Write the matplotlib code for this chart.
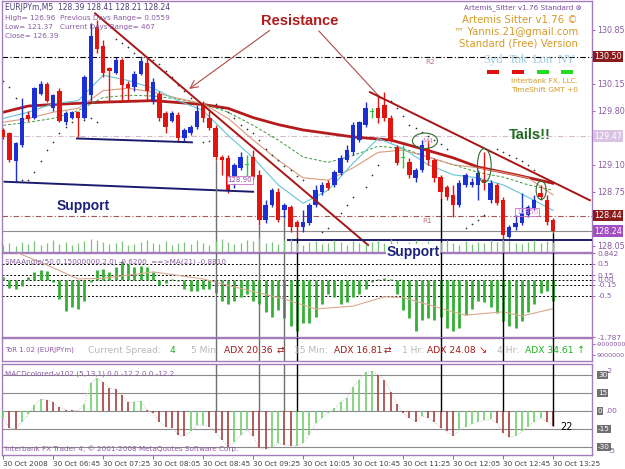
import matplotlib
matplotlib.use("Agg")
import matplotlib.pyplot as plt
from matplotlib.patches import Ellipse, Rectangle
import matplotlib.transforms as mtransforms
import numpy as np

# ---- values (EURJPYm, M5, 30 Oct 2008) ----
opens = [129.55, 129.51, 129.15, 129.35, 129.75, 129.71, 130.02, 130.14, 129.84, 130.06,
         129.65, 129.71, 129.78, 129.71, 130.00, 130.88, 130.64, 130.35, 130.29, 130.45,
         130.15, 130.10, 130.28, 130.42, 129.93, 130.01, 129.77, 129.67, 129.74, 129.44,
         129.51, 129.59, 129.87, 129.71, 129.57, 129.20, 129.19, 128.84, 129.06, 129.10,
         129.20, 128.97, 128.39, 128.58, 128.75, 128.51, 128.55, 128.36, 128.30, 128.35,
         128.58, 128.75, 128.86, 128.84, 128.99, 129.16, 129.26, 129.42, 129.61, 129.78,
         129.83, 129.87, 129.71, 129.33, 129.19, 129.13, 128.93, 129.03, 129.31, 129.16,
         128.94, 128.81, 128.71, 128.58, 128.84, 128.84, 128.84, 128.90, 128.64, 128.84,
         128.64, 128.17, 128.30, 128.35, 128.45, 128.54, 128.73, 128.64, 128.39]
highs = [129.57, 129.53, 129.40, 129.97, 129.80, 130.11, 130.19, 130.17, 130.02, 130.09,
         129.80, 129.80, 129.80, 130.26, 130.94, 130.97, 130.71, 130.37, 130.49, 130.48,
         130.19, 130.32, 130.50, 130.48, 130.22, 130.06, 129.80, 129.80, 129.78, 129.57,
         129.61, 129.87, 129.93, 129.80, 129.61, 129.22, 129.22, 129.12, 129.26, 129.22,
         129.29, 129.03, 128.64, 128.80, 128.80, 128.60, 128.58, 128.39, 128.51, 128.60,
         128.84, 128.88, 128.90, 129.03, 129.22, 129.35, 129.65, 129.67, 129.91, 129.83,
         130.00, 130.04, 129.74, 129.35, 129.35, 129.19, 129.06, 129.42, 129.42, 129.19,
         128.97, 128.84, 128.84, 128.90, 128.99, 128.93, 129.03, 129.26, 128.90, 128.86,
         128.68, 128.32, 128.45, 128.73, 128.58, 128.71, 128.84, 128.71, 128.41]
lows = [129.43, 129.13, 128.88, 129.33, 129.66, 129.69, 130.00, 129.91, 129.80, 129.65,
        129.61, 129.69, 129.46, 129.69, 129.93, 130.55, 130.23, 129.93, 130.27, 129.93,
        129.93, 130.06, 130.26, 129.93, 129.88, 129.67, 129.51, 129.65, 129.39, 129.40,
        129.48, 129.56, 129.65, 129.55, 129.16, 128.97, 128.73, 128.80, 129.03, 128.94,
        128.90, 128.32, 128.35, 128.55, 128.36, 128.41, 128.23, 128.17, 128.23, 128.32,
        128.55, 128.71, 128.77, 128.81, 128.97, 129.13, 129.22, 129.39, 129.59, 129.70,
        129.64, 129.67, 129.39, 129.10, 129.06, 128.93, 128.88, 129.00, 129.10, 128.88,
        128.67, 128.64, 128.42, 128.55, 128.81, 128.81, 128.64, 128.77, 128.60, 128.58,
        128.15, 128.15, 128.26, 128.32, 128.42, 128.51, 128.64, 128.32, 128.21]
closes = [129.46, 129.16, 129.38, 129.70, 129.69, 130.09, 130.15, 129.93, 130.00, 129.67,
          129.77, 129.78, 129.71, 130.23, 130.77, 130.60, 130.29, 130.32, 130.46, 130.13,
          130.09, 130.28, 130.44, 130.06, 130.17, 129.70, 129.59, 129.77, 129.44, 129.55,
          129.59, 129.80, 129.71, 129.57, 129.20, 129.16, 128.77, 129.10, 129.20, 129.10,
          128.94, 128.39, 128.58, 128.77, 128.39, 128.58, 128.30, 128.30, 128.36, 128.58,
          128.77, 128.84, 128.80, 129.00, 129.19, 129.29, 129.61, 129.65, 129.83, 129.78,
          129.70, 129.71, 129.42, 129.12, 129.19, 128.97, 129.03, 129.35, 129.16, 128.93,
          128.75, 128.68, 128.58, 128.86, 128.97, 128.88, 128.99, 128.86, 128.86, 128.60,
          128.19, 128.30, 128.35, 128.48, 128.55, 128.64, 128.68, 128.36, 128.24]
volumes = [7, 9, 6, 10, 8, 11, 7, 9, 12, 8, 10, 7, 9, 11, 13, 12, 10, 8, 9, 11,
           7, 8, 10, 12, 9, 8, 11, 7, 9, 10, 8, 12, 9, 7, 11, 13, 10, 8, 9, 12,
           11, 14, 9, 10, 8, 12, 13, 9, 7, 10, 11, 8, 9, 12, 10, 7, 11, 9, 8, 10,
           12, 9, 13, 11, 8, 10, 12, 9, 11, 8, 10, 12, 9, 7, 11, 8, 10, 9, 12, 10,
           13, 11, 9, 8, 10, 12, 9, 11, 10]

# moving averages, sampled every 4 bars
ma_idx = [0, 4, 8, 12, 16, 20, 24, 28, 32, 36, 40, 44, 48, 52, 56, 60, 64, 68, 72, 76, 80, 84, 88]
ma_fast = [129.70, 129.78, 129.89, 129.93, 130.26, 130.19, 130.09, 129.93, 129.80, 129.48, 129.19, 128.84,
           128.60, 128.77, 129.12, 129.44, 129.31, 129.10, 128.97, 128.93, 128.84, 128.68, 128.51]
ma_mid = [129.65, 129.70, 129.78, 129.83, 130.06, 130.09, 130.04, 129.96, 129.89, 129.70, 129.42, 129.16,
          128.93, 128.90, 129.06, 129.26, 129.29, 129.20, 129.10, 129.06, 129.00, 128.93, 128.71]
ma_dash = [129.61, 129.65, 129.70, 129.80, 129.97, 130.00, 129.99, 129.95, 129.89, 129.78, 129.61, 129.42,
           129.20, 129.13, 129.22, 129.34, 129.31, 129.20, 129.10, 129.00, 128.94, 128.84, 128.77]
ma_slow_idx = [0, 4, 8, 16, 24, 32, 36, 40, 44, 48, 56, 62, 66, 72, 76, 82, 88]
ma_slow = [129.78, 129.86, 129.88, 129.91, 129.93, 129.88, 129.83, 129.71, 129.62, 129.55, 129.46, 129.42,
           129.33, 129.19, 129.07, 128.97, 128.86]

# parabolic SAR dots
sar_idx = [0, 1, 2, 3, 4, 5, 6, 7, 8, 9, 10, 11, 13, 14, 15,
           18, 19, 20, 21, 22, 24, 25, 26, 27, 28, 29, 30, 32, 33,
           34, 35, 36, 37, 38, 39, 40, 41, 42, 43, 44, 45, 46, 47, 48,
           51, 52, 54, 55, 56, 58, 59, 60,
           62, 63, 64, 65, 66, 67, 68, 69, 70, 71,
           74, 75, 76, 77, 79, 80, 81, 82, 83, 84, 85]
sar_val = [130.19, 130.10, 129.97, 128.90, 128.90, 129.00, 129.15, 129.29, 129.39, 129.51, 129.59, 129.65,
           129.68, 129.70, 129.65,
           130.73, 130.68, 130.62, 130.55, 130.50, 130.45, 130.41, 130.32, 130.24, 130.13, 130.06, 129.97,
           129.39, 129.41,
           129.89, 129.84, 129.78, 129.70, 129.61, 129.56, 129.51, 129.42, 129.30, 129.22, 129.16, 129.08,
           129.03, 128.95, 128.90,
           128.23, 128.28, 128.48, 128.58, 128.68, 128.81, 128.97, 129.10,
           129.93, 129.83, 129.73, 129.62, 129.57, 129.52, 129.47, 129.42, 129.37, 129.31,
           128.28, 128.33, 128.39, 128.45, 129.30, 129.26, 129.22, 129.19, 129.15, 129.10, 129.03]

# hand drawn trend lines: (bar0, price0, bar1, price1)
resistance_lines = [(14.7, 131.06, 58.4, 128.06), (58.7, 130.04, 93.9, 128.64)]
support_lines = [(0.2, 128.88, 40.0, 128.75), (11.8, 129.44, 30.2, 129.39), (45.6, 128.13, 94.2, 128.13)]
marked_bars = [34, 41, 45, 47, 70, 80, 88]
marked_colors = ['#707070', '#707070', '#707070', 'black', 'black', 'black', 'black']

price_ticks = [130.85, 130.15, 129.80, 129.10, 128.75, 128.05]
price_boxes = [(130.50, '#8b1a1a'), (129.47, '#d8c4e2'), (128.44, '#8b1a1a'), (128.24, '#a24fc2')]

sma_angle = [0.10, -0.25, -0.30, -0.20, 0.10, 0.25, 0.30, 0.28, -0.05, -0.60,
             -0.97, -0.85, -0.90, -0.65, -0.05, 0.30, 0.35, 0.25, 0.40, 0.60,
             0.50, 0.40, 0.45, 0.40, 0.25, -0.15, -0.10, 0.02, -0.02, -0.28,
             -0.35, -0.35, -0.30, -0.27, -0.40, -0.65, -0.75, -0.65, -0.55, -0.45,
             -0.65, -0.75, -1.00, -1.15, -0.95, -1.20, -1.45, -1.60, -1.35, -1.35,
             -1.15, -0.75, -0.45, -0.55, -0.75, -0.70, -0.55, -0.45, -0.30, -0.05,
             0.03, 0.05, 0.03, -0.45, -0.95, -1.20, -1.60, -1.25, -1.20, -1.25,
             -1.15, -1.50, -1.60, -1.50, -1.10, -0.90, -0.65, -0.70, -0.85, -1.05,
             -1.30, -1.45, -1.50, -1.30, -1.00, -0.75, -0.40, -0.35, -0.65]
sma_ma_idx = [0, 2, 6, 12, 16, 24, 32, 37, 45, 50, 56, 61, 64, 72, 74, 80, 83, 88]
sma_ma = [1.0, 0.87, 0.55, 0.03, 0.05, 0.25, 0.03, -0.22, -0.6, -0.91, -0.82, -0.53, -0.55, -1.0, -1.1,
          -1.0, -1.13, -0.9]
sma_levels = [0.5, 0.15, 0.0, -0.15, -0.5]
sma_ticks = [0.842, 0.5, 0.15, 0.0, -0.15, -0.5, -1.787]
sma_tick_labels = ['0.842', '0.5', '0.15', '0.00', '-0.15', '-0.5', '-1.787']

macd = [-6, -14, -15, -9, -3, 5, 10, 9, 7, 3,
        1, 0.5, 0.3, 6, 23, 27, 24, 19, 18, 13,
        7, 7.5, 8, 1, -2, -9, -13, -14, -20, -21,
        -17, -12, -12, -13, -18, -24, -30, -26, -20, -16,
        -21, -31, -32, -30, -27, -28, -29, -29, -27, -20,
        -10, -6, -2, 2, 7, 11, 20, 26, 32, 33,
        30, 26, 16, 6, -2, -6, -9, -4, -6, -9,
        -14, -17, -21, -16, -13, -11, -9, -8, -7, -10,
        -18, -22, -21, -17, -13, -9, -6, -9, -12.2]
macd_levels = [30, 15, 0, -15, -30]
macd_box_labels = ['30', '15', '0', '-15', '-30']

date_idx = [0, 8, 16, 24, 32, 40, 48, 56, 64, 72, 80, 88]
date_labels = ['30 Oct 2008', '30 Oct 06:45', '30 Oct 07:25', '30 Oct 08:05', '30 Oct 08:45',
               '30 Oct 09:25', '30 Oct 10:05', '30 Oct 10:45', '30 Oct 11:25', '30 Oct 12:05',
               '30 Oct 12:45', '30 Oct 13:25']

W, H = 625, 469
PURPLE = '#a57cbb'
LABEL = '#8a5aa2'
fig = plt.figure(figsize=(6.25, 4.69), dpi=100)
fig.patch.set_facecolor('white')


def px_axes(left, top, right, bottom):
    return fig.add_axes([left / W, 1 - bottom / H, (right - left) / W, (bottom - top) / H])


def ftext(x, y, s, **kw):
    kw.setdefault('va', 'center')
    kw.setdefault('ha', 'left')
    return fig.text(x / W, 1 - y / H, s, **kw)


def style(ax):
    for sp in ax.spines.values():
        sp.set_color(PURPLE)
        sp.set_linewidth(1.0)
    ax.set_xlim(-0.2, 94.24)
    ax.tick_params(left=False, labelleft=False, bottom=False, labelbottom=False,
                   right=True, labelright=True, colors=LABEL, labelsize=5.8,
                   length=2, pad=2, width=0.6)
    ax.set_facecolor('white')


x = np.arange(len(opens))
o, h, l, c = (np.array(v) for v in (opens, highs, lows, closes))

# ---------------- main price panel ----------------
ax = px_axes(2, 1, 592, 252)
style(ax)
ax.set_ylim(127.97, 131.22)
ax.set_yticks(price_ticks)
ax.set_yticklabels([f'{v:.2f}' for v in price_ticks])

ax.axhline(130.50, color='black', lw=0.8, ls=(0, (5, 2, 1, 2)), zorder=1)
ax.axhline(129.47, color='#d2b8cc', lw=0.8, ls=(0, (5, 2, 1, 2)), zorder=1)
ax.axhline(128.44, color='#a05858', lw=0.8, ls=(0, (5, 2, 1, 2)), zorder=1)
ax.axhline(128.24, color='#8c8c8c', lw=0.8, zorder=1)

ax.plot(ma_slow_idx, ma_slow, color='#b41c1c', lw=2.0, zorder=2)
ax.plot(ma_idx, ma_dash, color='#3c9a3c', lw=0.7, ls=(0, (3, 2)), zorder=2)
ax.plot(ma_idx, ma_mid, color='#d99a7a', lw=0.8, zorder=2)
ax.plot(ma_idx, ma_fast, color='#62c6d6', lw=0.8, zorder=2)
ax.scatter(sar_idx, sar_val, s=1.5, color='#303030', zorder=2, linewidths=0)

up = c > o
dn = c < o
cols = np.where(up, '#1c2fd2', np.where(dn, '#e2140f', '#22cc33'))
ax.vlines(x, l, h, colors=cols, lw=1.0, zorder=3)
body_lo = np.minimum(o, c)
body_h = np.maximum(np.abs(c - o), 0.012)
ax.bar(x, body_h, bottom=body_lo, width=0.7, color=cols, linewidth=0, zorder=4)

for b0, p0, b1, p1 in resistance_lines:
    ax.plot([b0, b1], [p0, p1], color='#a81515', lw=1.4, zorder=5)
for b0, p0, b1, p1 in support_lines:
    ax.plot([b0, b1], [p0, p1], color='#1c1c6e', lw=1.4, zorder=5)

for i, col in zip(marked_bars, marked_colors):
    ax.vlines(i, 127.97, lows[i], color=col, lw=1.0, zorder=5)

ax.add_patch(Ellipse((67.5, 129.41), 4.0, 0.20, fill=False, ec='#2e6b2e', lw=0.8, zorder=6))
ax.add_patch(Ellipse((77.0, 129.09), 2.2, 0.44, fill=False, ec='#2e6b2e', lw=0.8, zorder=6))
ax.add_patch(Ellipse((86.1, 128.77), 1.6, 0.24, fill=False, ec='#2e6b2e', lw=0.8, zorder=6))

# volume-like histogram at the bottom of the price panel
vax = px_axes(2, 234, 592, 252)
vax.set_xlim(-0.2, 94.24)
vax.set_ylim(0, 18)
vax.vlines(x, 0, volumes, color='#7cc27c', lw=0.9)
vax.axis('off')

ax.annotate('', xy=(29.4, 130.06), xytext=(43.0, 130.86),
            arrowprops=dict(arrowstyle='->', color='#b24a4a', lw=0.8, mutation_scale=14))
ax.annotate('', xy=(60.8, 129.93), xytext=(50.2, 130.86),
            arrowprops=dict(arrowstyle='-', color='#b24a4a', lw=0.8))

for price, bg in price_boxes:
    ax.text(1.004, price, f'{price:.2f}', transform=mtransforms.blended_transform_factory(ax.transAxes, ax.transData),
            color='white', fontsize=5.8, va='center', ha='left',
            bbox=dict(boxstyle='square,pad=0.15', fc=bg, ec='none'), zorder=10, clip_on=False)

# texts in the price panel
ftext(5, 8, 'EURJPYm,M5  128.39 128.41 128.21 128.24', color='#4a3c78', fontsize=5.5)
ftext(5, 18, 'High= 126.96', color=LABEL, fontsize=5.2)
ftext(60, 18, 'Previous Days Range= 0.0559', color=LABEL, fontsize=5.2)
ftext(5, 27, 'Low= 121.37', color=LABEL, fontsize=5.2)
ftext(60, 27, 'Current Days Range= 467', color=LABEL, fontsize=5.2)
ftext(5, 36, 'Close= 126.39', color=LABEL, fontsize=5.2)

ftext(300, 21, 'Resistance', ha='center', color='#b01c1c', fontsize=10.5, fontweight='bold',
      family='Liberation Sans')
ftext(83, 206, 'Support', ha='center', color='#1c237a', fontsize=10, fontweight='bold',
      family='Liberation Sans')
ftext(413, 252, 'Support', ha='center', color='#1c237a', fontsize=10, fontweight='bold',
      family='Liberation Sans', bbox=dict(fc='white', ec='none', pad=0.5), zorder=20)
ftext(530, 135, 'Tails!!', ha='center', color='#1f6b1f', fontsize=10.5, fontweight='bold',
      family='Liberation Sans')

ftext(582, 8, 'Artemis_Sitter v1.76 Standard \u2297', ha='right', color='#7a4aa0', fontsize=5.2)
GOLD = '#d49a2a'
ftext(578, 20, 'Artemis Sitter v1.76 \u00a9', ha='right', color=GOLD, fontsize=7.3)
ftext(578, 32, '\u2122 Yannis.21@gmail.com', ha='right', color=GOLD, fontsize=7.3)
ftext(578, 44, 'Standard (Free) Version', ha='right', color=GOLD, fontsize=7.3)
for lx, name, col in [(493, 'Syd', '#e01010'), (518, 'Tok', '#e01010'), (543, 'Lon', '#22dd22'), (567, 'NY', '#22dd22')]:
    ftext(lx, 60, name, ha='center', color='#9ccbe0', fontsize=9, family='Liberation Serif')
    fig.patches.append(Rectangle(((lx - 6) / W, 1 - 74 / H), 12 / W, 4 / H, transform=fig.transFigure,
                                 fc=col, ec='none'))
ftext(578, 81, 'Interbank FX, LLC.', ha='right', color=GOLD, fontsize=5.3)
ftext(578, 90, 'TimeShift GMT +0', ha='right', color=GOLD, fontsize=5.3)
ftext(430, 62, 'R2', ha='center', color='#c07878', fontsize=5.3)
ftext(427, 221, 'R1', ha='center', color='#c07878', fontsize=5.3)
ftext(428, 141, 'M4', ha='center', color='#d090c0', fontsize=5.3)
ftext(240, 180, '128.90', ha='center', color='#9050a0', fontsize=5,
      bbox=dict(fc='white', ec='#d070c0', lw=0.6, pad=0.6))
ftext(527, 212, '12850', ha='center', color='#e090e0', fontsize=5,
      bbox=dict(fc='none', ec='#d070c0', lw=0.6, pad=0.6))

# ---------------- SMAAngle panel ----------------
ax2 = px_axes(2, 253, 592, 337)
style(ax2)
ax2.set_ylim(-1.787, 0.842)
ax2.set_yticks(sma_ticks)
ax2.set_yticklabels(sma_tick_labels)
ax2.tick_params(labelsize=5.4)
for lv in sma_levels:
    ax2.axhline(lv, color='black', lw=0.7, ls=(0, (2, 2)), zorder=1)
ax2.vlines(x, 0, sma_angle, color='#35b035', lw=2.0, zorder=2)
ax2.plot(sma_ma_idx, sma_ma, color='#d8a890', lw=0.8, zorder=3)
for i, col in zip(marked_bars, marked_colors):
    ax2.axvline(i, color=col, lw=1.0, zorder=4)
ftext(5, 262, 'SMAAngle(50,0.15000000,2,0) -0.6200  ==>MA(21) -0.8810', color=LABEL, fontsize=5.2)

# ---------------- ToR panel ----------------
ax3 = px_axes(2, 338, 592, 361)
style(ax3)
ax3.set_ylim(-1, 1)
ax3.set_yticks([0.5, -0.5])
ax3.set_yticklabels(['-9000000', '9000000'])
ax3.tick_params(labelsize=4.6, pad=1)
for i, col in zip(marked_bars, marked_colors):
    ax3.axvline(i, color=col, lw=1.0, zorder=4)
GREY = '#b8b8b8'
DRED = '#a01818'
tor_items = [(5, 'ToR 1.02 (EURJPYm)', LABEL, 5.0), (88, 'Current Spread:', GREY, 6.6),
             (170, '4', '#22aa22', 6.6), (191, '5 Min:', GREY, 6.6), (224, 'ADX 20.36', DRED, 6.6),
             (277, '\u21c4', DRED, 6.6), (294, '15 Min:', GREY, 6.6), (334, 'ADX 16.81', DRED, 6.6),
             (384, '\u21c4', DRED, 6.6), (402, '1 Hr:', GREY, 6.6), (427, 'ADX 24.08', DRED, 6.6),
             (479, '\u2198', '#e01010', 7), (497, '4 Hr:', GREY, 6.6), (525, 'ADX 34.61', '#22b022', 6.6),
             (577, '\u2191', '#22b022', 7)]
for tx, s, col, fs in tor_items:
    ftext(tx, 350, s, color=col, fontsize=fs)

# ---------------- MACD panel ----------------
ax4 = px_axes(2, 364, 592, 455)
style(ax4)
ax4.set_ylim(-36.7, 39.0)
ax4.set_yticks([])
for lv in macd_levels:
    ax4.axhline(lv, color='#8a8a8a', lw=0.8, zorder=1)
m = np.array(macd)
rising = np.diff(m, prepend=m[0] - 1) >= 0
mcols = np.where(rising, '#6fd06f', '#a44040')
ax4.plot(x, m, color='#c0c0c0', lw=0.7, ls=(0, (1, 1.5)), zorder=2)
ax4.vlines(x, 0, m, colors=mcols, lw=1.2, zorder=3)
for i, col in zip(marked_bars, marked_colors):
    ax4.vlines(i, 0, 39.0, color=col, lw=1.0, zorder=4)
ax4.vlines(88, macd[88], 0, color='black', lw=1.0, zorder=4)
ax4.text(89.2, -13.5, '22', color='black', fontsize=7, va='center')
trans = mtransforms.blended_transform_factory(ax4.transAxes, ax4.transData)
ax4.text(1.022, 31, '.2', transform=trans, color=LABEL, fontsize=5.4, va='bottom', clip_on=False)
ax4.text(1.022, 0, '.00', transform=trans, color=LABEL, fontsize=5.4, va='center', clip_on=False)
ax4.text(1.028, -31, '.5', transform=trans, color=LABEL, fontsize=5.4, va='top', clip_on=False)
for lv, s in zip(macd_levels, macd_box_labels):
    ax4.text(1.01, lv, s, transform=trans, color='white', fontsize=5.2, va='center', ha='left',
             bbox=dict(boxstyle='square,pad=0.12', fc='#707070', ec='none'), clip_on=False, zorder=10)
ftext(5, 374, 'MACDcolored-v102 (5,13,1) 0.0 -12.2 0.0 -12.2', color=LABEL, fontsize=5.2)
ftext(5, 449, 'Interbank FX Trader 4, \u00a9 2001-2008 MetaQuotes Software Corp.', color=LABEL, fontsize=5.2)

ax4.set_xticks(date_idx)
ax4.set_xticklabels(date_labels, ha='left')
ax4.tick_params(bottom=True, labelbottom=True, length=3, pad=1.5, labelsize=5.2,
                labelcolor='#404040', color='#606060')

fig.savefig('out.png', dpi=100, facecolor='white')
